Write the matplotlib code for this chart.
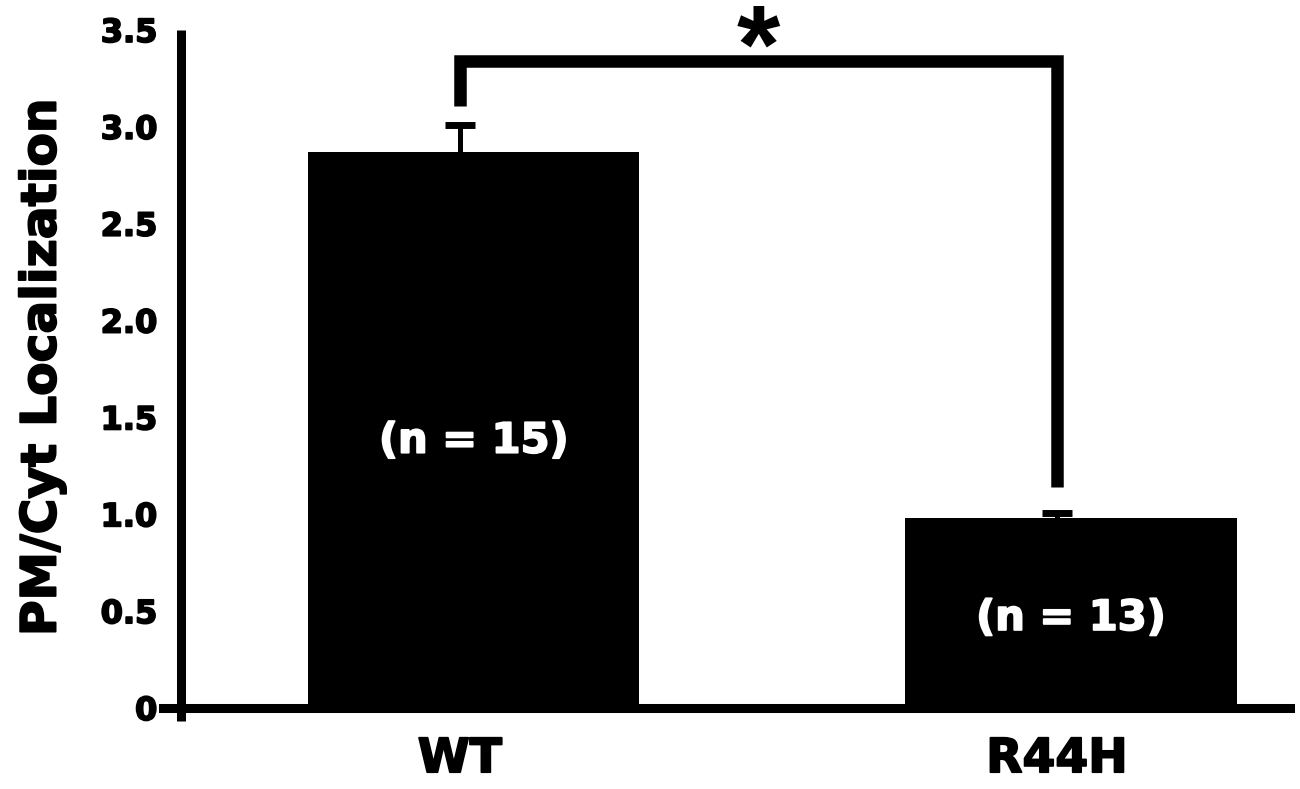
import matplotlib
matplotlib.use('Agg')
import matplotlib.pyplot as plt
import matplotlib.patheffects as pe

plt.rcParams['font.family'] = ['DejaVu Sans']
plt.rcParams['font.weight'] = 'bold'

# data
groups = ['WT', 'R44H']
means = [2.87, 0.98]
errs = [0.142, 0.025]
n_labels = ['(n = 15)', '(n = 13)']
n_label_y = [1.38, 0.465]
yticks = [0, 0.5, 1.0, 1.5, 2.0, 2.5, 3.0, 3.5]
ytick_labels = ['0', '0.5', '1.0', '1.5', '2.0', '2.5', '3.0', '3.5']

# significance bracket between WT and R44H
sig_y = 3.34
sig_left_bottom = 3.108
sig_right_bottom = 1.14

heavy = [pe.withStroke(linewidth=1.3, foreground='black')]
heavy_w = [pe.withStroke(linewidth=1.3, foreground='white')]

fig = plt.figure(figsize=(13, 7.89), dpi=100)
ax = fig.add_axes([0.1254, 0.0862, 0.8669, 0.8758])

x = list(range(len(groups)))
bar_x = [i + 0.023 for i in x]
ax.bar(bar_x, means, width=0.555, color='black', zorder=2)

# upper error bars only
tops = [m + e for m, e in zip(means, errs)]
ax.vlines(x, means, tops, color='black', lw=3.6, zorder=3)
ax.plot(x, tops, ls='none', marker='_', markersize=22, mew=5, color='black', zorder=3)

for bx, lab, ly in zip(bar_x, n_labels, n_label_y):
    ax.text(bx, ly, lab, color='white', fontsize=30, fontweight='bold',
            ha='center', va='center', zorder=4, path_effects=heavy_w)

# bracket + star
ax.plot([x[0], x[0], x[1], x[1]], [sig_left_bottom, sig_y, sig_y, sig_right_bottom],
        color='black', lw=9, solid_joinstyle='miter', solid_capstyle='butt',
        clip_on=False, zorder=3)
ax.text((x[0] + x[1]) / 2, 3.227, '*', fontsize=80, fontweight='bold',
        family='Liberation Sans', ha='center', va='baseline', clip_on=False)

ax.set_xlim(-0.497, 1.39)
ax.set_ylim(-0.067, 3.5)

for s in ['top', 'right']:
    ax.spines[s].set_visible(False)
ax.spines['left'].set_position(('data', -0.467))
ax.spines['bottom'].set_position(('data', 0))
ax.spines['left'].set_linewidth(6.5)
ax.spines['bottom'].set_linewidth(6.5)
ax.spines['left'].set_capstyle('butt')

ax.set_yticks(yticks)
ax.set_yticklabels(ytick_labels, fontsize=23, fontweight='bold')
ax.set_xticks(x)
ax.set_xticklabels(groups, fontsize=34, fontweight='bold')
ax.tick_params(axis='y', length=0, pad=17)
ax.tick_params(axis='x', length=0, pad=21)
for t in ax.get_xticklabels() + ax.get_yticklabels():
    t.set_path_effects(heavy)

fig.text(0.032, 0.535, 'PM/Cyt Localization', rotation=90, fontsize=35,
         fontweight='bold', ha='center', va='center', path_effects=heavy)

plt.savefig('out.png', dpi=100)
